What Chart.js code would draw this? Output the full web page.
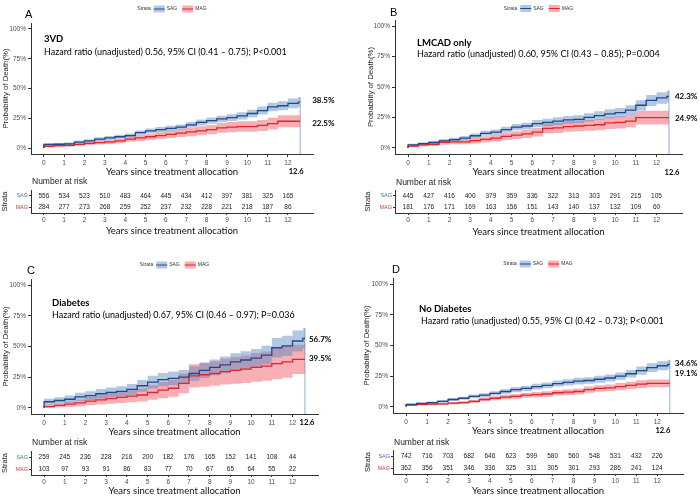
<!DOCTYPE html>
<html>
<head>
<meta charset="utf-8">
<script src="https://cdn.jsdelivr.net/npm/chart.js@4.4.1/dist/chart.umd.min.js"></script>
<style>
  body { margin: 0; background: #fff; width: 700px; height: 497px; position: relative; overflow: hidden; }
  canvas { position: absolute; }
</style>
</head>
<body>
<canvas id="kmA" width="350" height="180" style="left:0;top:0"></canvas>
<canvas id="kmB" width="350" height="180" style="left:350px;top:0"></canvas>
<canvas id="riskA" width="350" height="65" style="left:0;top:175px"></canvas>
<canvas id="riskB" width="350" height="65" style="left:350px;top:175px"></canvas>
<canvas id="kmC" width="350" height="190" style="left:0;top:250px"></canvas>
<canvas id="kmD" width="350" height="190" style="left:350px;top:250px"></canvas>
<canvas id="riskC" width="350" height="60" style="left:0;top:437px"></canvas>
<canvas id="riskD" width="350" height="60" style="left:350px;top:437px"></canvas>
<script>
var years = [0, 0.5, 1, 1.5, 2, 2.5, 3, 3.5, 4, 4.5, 5, 5.5, 6, 6.5, 7, 7.5, 8, 8.5, 9, 9.5, 10, 10.5, 11, 11.5, 12, 12.5, 12.6];
var riskYears = [0, 1, 2, 3, 4, 5, 6, 7, 8, 9, 10, 11, 12];
var yTicks = [0, 25, 50, 75, 100];
var groups = ['SAG', 'MAG'];

// A: 3VD
var aSagEst = [0, 3, 3.2, 3.5, 5, 6, 7.5, 8.5, 9.5, 10.5, 13, 14.5, 15.5, 16.5, 17.5, 19.5, 21.5, 23, 24.5, 25.5, 27, 29, 31.5, 34.5, 35.5, 37.5, 38.5];
var aSagLo = [0, 2, 2.2, 2.5, 3.8, 4.7, 6, 7, 8, 8.8, 11.2, 12.6, 13.5, 14.4, 15.3, 17.2, 19, 20.4, 21.8, 22.7, 24, 25.8, 28.2, 31, 31.8, 33.5, 34.3];
var aSagHi = [0, 4, 4.3, 4.6, 6.3, 7.4, 9, 10.1, 11.1, 12.2, 14.8, 16.4, 17.6, 18.7, 19.8, 21.8, 24, 25.6, 27.2, 28.4, 30, 32.2, 34.8, 38, 39.3, 41.5, 42.8];
var aMagEst = [0, 1.5, 2, 2.3, 3, 4, 4.5, 5.2, 6, 7.5, 8.5, 9.5, 10.5, 11.5, 12.5, 13.5, 14.5, 15.5, 17, 17.5, 18, 18, 19, 20.5, 22.5, 22.5, 22.5];
var aMagLo = [0, 0.5, 0.9, 1.1, 1.7, 2.5, 2.9, 3.4, 4, 5.2, 6, 6.8, 7.6, 8.4, 9.2, 10, 10.8, 11.6, 12.8, 13.2, 13.6, 13.6, 14.4, 15.6, 17.4, 17.4, 17.4];
var aMagHi = [0, 2.5, 3.1, 3.6, 4.4, 5.5, 6.1, 7, 8, 9.8, 11, 12.2, 13.4, 14.6, 15.8, 17, 18.2, 19.4, 21.2, 21.8, 22.4, 22.4, 23.6, 25.4, 27.6, 27.6, 27.6];
var aSagRisk = [556, 534, 523, 510, 483, 464, 445, 434, 412, 397, 381, 325, 165];
var aMagRisk = [284, 277, 273, 268, 259, 252, 237, 232, 228, 221, 218, 187, 86];

// B: LMCAD only
var bSagEst = [0, 2.5, 3.5, 4.5, 5.8, 6.8, 8, 10, 12, 13, 15, 17, 18, 20, 21, 22, 23, 23.5, 25, 26.5, 28, 29, 31, 35, 39, 41, 42.3];
var bSagLo = [0, 1.5, 2.4, 3.3, 4.4, 5.3, 6.3, 8.1, 9.9, 10.8, 12.6, 14.4, 15.3, 17.1, 18, 18.9, 19.8, 20.2, 21.6, 22.9, 24.3, 25.2, 27, 30.8, 34.5, 36.3, 37.4];
var bSagHi = [0, 3.5, 4.6, 5.7, 7.2, 8.3, 9.7, 11.9, 14.1, 15.2, 17.4, 19.6, 20.7, 22.9, 24, 25.1, 26.2, 26.8, 28.4, 30.1, 31.7, 32.8, 35, 39.2, 43.5, 45.7, 47.2];
var bMagEst = [0, 1.5, 2.5, 3, 4.5, 5, 5, 6, 7, 8, 9.5, 10.5, 11.5, 13, 16, 16.5, 17.5, 18, 18.5, 19, 20.5, 21, 22, 24.9, 24.9, 24.9, 24.9];
var bMagLo = [0, 0.5, 1.1, 1.5, 2.6, 3, 3, 3.7, 4.5, 5.2, 6.5, 7.3, 8.1, 9.4, 11.9, 12.3, 13.2, 13.6, 14, 14.4, 15.6, 16, 16.8, 19.2, 19.2, 19.2, 19.2];
var bMagHi = [0, 2.5, 3.9, 4.5, 6.4, 7, 7, 8.3, 9.5, 10.8, 12.5, 13.7, 14.9, 16.6, 20.1, 20.7, 21.8, 22.4, 23, 23.6, 25.4, 26, 27.2, 30.6, 30.6, 30.6, 30.6];
var bSagRisk = [445, 427, 416, 400, 379, 359, 336, 322, 313, 303, 291, 215, 105];
var bMagRisk = [181, 176, 171, 169, 163, 156, 151, 143, 140, 137, 132, 109, 60];

// C: Diabetes
var cSagEst = [0, 5, 6, 7, 9, 10, 11.5, 12.5, 13.5, 15, 18, 21, 23, 24, 25, 28, 30.5, 33, 35, 37.5, 39, 40.5, 43, 49, 50.5, 54.5, 56.7];
var cSagLo = [0, 2.5, 3.3, 4, 5.6, 6.4, 7.6, 8.5, 9.3, 10.6, 13.2, 15.8, 17.6, 18.4, 19.2, 22, 24.3, 26.5, 28.2, 30.5, 31.8, 33, 35.3, 41, 42.2, 46, 48.5];
var cSagHi = [0, 7.5, 8.7, 10, 12.4, 13.6, 15.4, 16.5, 17.7, 19.4, 22.8, 26.2, 28.4, 29.6, 30.8, 34, 36.7, 39.5, 41.8, 44.5, 46.2, 48, 50.7, 57, 58.8, 63, 64.9];
var cMagEst = [0, 1, 2, 3, 4, 5.5, 6.5, 7.5, 8.5, 9.5, 10.5, 12.5, 14.5, 16, 20, 26, 27, 28, 29.5, 30.5, 31.5, 33, 34, 36, 37.5, 39.5, 39.5];
var cMagLo = [0, 0, 0.3, 0.8, 1.3, 2.2, 2.8, 3.4, 4, 4.6, 5.2, 6.6, 7.9, 9, 12, 16.5, 17.2, 18, 19, 19.6, 20.3, 21.3, 22, 23.4, 24.6, 27.5, 27.5];
var cMagHi = [0, 3, 3.7, 5.2, 6.7, 8.8, 10.2, 11.6, 13, 14.4, 15.8, 18.4, 21.1, 23, 28, 35.5, 36.8, 38, 40, 41.4, 42.7, 44.7, 46, 48.6, 50.4, 51.5, 51.5];
var cSagRisk = [259, 245, 236, 228, 216, 200, 182, 176, 165, 152, 141, 108, 44];
var cMagRisk = [103, 97, 93, 91, 86, 83, 77, 70, 67, 65, 64, 55, 22];

// D: No Diabetes
var dSagEst = [0, 2, 2.8, 3.5, 4.5, 6, 7, 8.5, 9.5, 11, 12.5, 14, 15, 16.5, 17.5, 19, 20, 21, 21.5, 22.5, 23.5, 25, 27, 29.5, 32, 33.5, 34.6];
var dSagLo = [0, 1.3, 2, 2.6, 3.5, 4.8, 5.7, 7, 7.9, 9.2, 10.6, 11.9, 12.8, 14.2, 15.1, 16.5, 17.4, 18.3, 18.8, 19.7, 20.6, 22, 23.9, 26.2, 28.5, 29.8, 30.9];
var dSagHi = [0, 2.7, 3.6, 4.4, 5.5, 7.2, 8.3, 10, 11.1, 12.8, 14.4, 16.1, 17.2, 18.8, 19.9, 21.5, 22.6, 23.7, 24.2, 25.3, 26.4, 28, 30.1, 32.8, 35.5, 37.2, 38.3];
var dMagEst = [0, 1.5, 2, 2.2, 2.5, 3, 3.5, 4.5, 6, 7, 8, 8.5, 9.5, 10, 10.5, 11.5, 12, 12.5, 14, 15, 15.5, 16.5, 17.5, 18.5, 19.1, 19.1, 19.1];
var dMagLo = [0, 0.8, 1.2, 1.3, 1.6, 2, 2.4, 3.2, 4.5, 5.3, 6.2, 6.6, 7.5, 7.9, 8.3, 9.2, 9.6, 10, 11.4, 12.3, 12.7, 13.6, 14.5, 15.4, 16, 16, 16];
var dMagHi = [0, 2.2, 2.8, 3.1, 3.4, 4, 4.6, 5.8, 7.5, 8.7, 9.8, 10.4, 11.5, 12.1, 12.7, 13.8, 14.4, 15, 16.6, 17.7, 18.3, 19.4, 20.5, 21.6, 22.2, 22.2, 22.2];
var dSagRisk = [742, 716, 703, 682, 646, 623, 599, 580, 560, 548, 531, 432, 226];
var dMagRisk = [362, 356, 351, 346, 336, 325, 311, 305, 301, 293, 286, 241, 124];

var sagLine = '#1f4a8a', magLine = '#e2252b';
var sagBand = 'rgba(84,130,190,0.45)', magBand = 'rgba(235,80,90,0.45)';
var sagText = '#4572b0', magText = '#e0383f';
var endLine = '#8db0d4';
var axisCol = '#333333', tickCol = '#4d4d4d';
var arial = '"Liberation Sans", Arial, sans-serif';
var calib = 'Lato, "Open Sans", sans-serif';
var X_MIN = -0.63, X_MAX = 13.23;

Chart.defaults.font.family = arial;

function pts(vals) {
  return years.map(function (x, i) { return { x: x, y: vals[i] }; });
}

function drawLegend(c, cx, cy) {
  c.font = '5px ' + arial;
  c.textBaseline = 'middle';
  c.textAlign = 'left';
  var keyW = 11, keyH = 7;
  var w = c.measureText('Strata').width + 3 + keyW + 2 + c.measureText('SAG').width + 5 + keyW + 2 + c.measureText('MAG').width;
  var x0 = cx - w / 2;
  c.fillStyle = '#333';
  c.fillText('Strata', x0, cy);
  x0 += c.measureText('Strata').width + 3;
  [[sagBand, sagLine, 'SAG'], [magBand, magLine, 'MAG']].forEach(function (k) {
    c.fillStyle = k[0];
    c.fillRect(x0, cy - keyH / 2, keyW, keyH);
    c.strokeStyle = k[1];
    c.lineWidth = 1;
    c.beginPath(); c.moveTo(x0, cy); c.lineTo(x0 + keyW, cy); c.stroke();
    x0 += keyW + 2;
    c.fillStyle = '#333';
    c.fillText(k[2], x0, cy);
    x0 += c.measureText(k[2]).width + 5;
  });
}

var kmDecor = {
  id: 'kmDecor',
  afterDraw: function (chart, args, o) {
    var c = chart.ctx, a = chart.chartArea, xs = chart.scales.x, ys = chart.scales.y;
    c.save();
    c.textBaseline = 'middle';
    c.textAlign = 'left';
    c.fillStyle = '#000';
    c.font = '11px ' + arial;
    c.fillText(o.letter, o.letterX, o.letterY);
    drawLegend(c, (a.left + a.right) / 2, o.legendY);
    c.fillStyle = '#000';
    c.font = 'bold 9.5px ' + calib;
    c.fillText(o.title, o.noteX[0], o.noteY[0]);
    c.font = '9px ' + calib;
    c.fillText(o.hazard, o.noteX[1], o.noteY[1]);
    var endX = years[years.length - 1];
    c.font = 'bold 8px ' + calib;
    var lx = xs.getPixelForValue(endX) + o.labelDx;
    c.fillText(o.endVals[0].toFixed(1) + '%', lx, ys.getPixelForValue(o.labelY[0]));
    c.fillText(o.endVals[1].toFixed(1) + '%', lx, ys.getPixelForValue(o.labelY[1]));
    c.textAlign = 'center';
    c.font = 'bold 7.5px ' + calib;
    c.fillText(String(endX), xs.getPixelForValue(endX) + o.endDx, o.endY);
    c.restore();
  }
};

var riskText = {
  id: 'riskText',
  afterDatasetsDraw: function (chart, args, o) {
    var c = chart.ctx;
    c.save();
    c.textBaseline = 'middle';
    c.textAlign = 'center';
    c.fillStyle = '#222';
    c.font = '6.5px ' + arial;
    chart.data.datasets.forEach(function (ds, i) {
      chart.getDatasetMeta(i).data.forEach(function (pt, j) {
        c.fillText(String(ds.counts[j]), pt.x, pt.y);
      });
    });
    c.textAlign = 'left';
    c.font = '8.5px ' + arial;
    c.fillText('Number at risk', chart.chartArea.left + 1, o.narY);
    c.restore();
  }
};

function xScale(p) {
  return {
    type: 'linear', min: X_MIN, max: X_MAX,
    afterBuildTicks: function (s) { s.ticks = riskYears.map(function (v) { return { value: v }; }); },
    afterFit: function (s) { s.height = p.xh; },
    ticks: { font: { size: 6.5 }, color: tickCol, padding: p.tickPad, maxRotation: 0, autoSkip: false },
    grid: { drawOnChartArea: false, tickLength: p.tickLen, color: axisCol },
    border: { color: axisCol },
    title: { display: true, text: 'Years since treatment allocation', color: '#111',
      font: { family: calib, size: 9.5 }, padding: { top: 0, bottom: p.xtPad } }
  };
}

function makeKm(id, p) {
  var last = years.length - 1;
  var band = function (vals, col, fill) {
    return { data: pts(vals), stepped: 'after', borderColor: 'transparent', borderWidth: 0,
      backgroundColor: col, fill: fill, pointRadius: 0 };
  };
  new Chart(document.getElementById(id), {
    type: 'line',
    data: {
      datasets: [
        { data: pts(p.sagEst), stepped: 'after', borderColor: sagLine, borderWidth: 1.3, pointRadius: 0, fill: false },
        { data: pts(p.magEst), stepped: 'after', borderColor: magLine, borderWidth: 1.3, pointRadius: 0, fill: false },
        band(p.sagHi, sagBand, '+1'),
        band(p.sagLo, sagBand, false),
        band(p.magHi, magBand, '+1'),
        band(p.magLo, magBand, false),
        { data: [{ x: years[last], y: -5 }, { x: years[last], y: p.sagHi[last] }],
          borderColor: endLine, borderWidth: 1, pointRadius: 0, fill: false }
      ]
    },
    options: {
      responsive: false, animation: false, events: [],
      layout: { padding: { top: p.padTop, right: p.padRight, left: 0, bottom: 0 } },
      plugins: {
        legend: { display: false }, tooltip: { enabled: false },
        kmDecor: {
          letter: p.letter, letterX: p.letterX, letterY: p.letterY, legendY: p.legendY,
          title: p.title, hazard: p.hazard, noteX: p.noteX, noteY: p.noteY,
          endVals: [p.sagEst[last], p.magEst[last]], labelY: p.labelY, labelDx: p.labelDx,
          endDx: p.endDx, endY: p.endY
        }
      },
      scales: {
        x: xScale({ xh: p.xh, xtPad: p.xtPad, tickLen: 3, tickPad: 2 }),
        y: {
          min: -5, max: 105,
          afterBuildTicks: function (s) { s.ticks = yTicks.map(function (v) { return { value: v }; }); },
          afterFit: function (s) { s.width = p.yw; },
          ticks: { font: { size: 6.5 }, color: tickCol, padding: 2, callback: function (v) { return v + '%'; } },
          grid: { drawOnChartArea: false, tickLength: 3, color: axisCol },
          border: { color: axisCol },
          title: { display: true, text: 'Probability of Death(%)', color: '#222',
            font: { size: 7.8 }, padding: { top: p.ytPad, bottom: 0 } }
        }
      }
    },
    plugins: [kmDecor]
  });
}

function makeRisk(id, p, sag, mag) {
  new Chart(document.getElementById(id), {
    type: 'scatter',
    data: {
      datasets: [
        { data: riskYears.map(function (v) { return { x: v, y: groups[0] }; }), counts: sag, pointRadius: 0 },
        { data: riskYears.map(function (v) { return { x: v, y: groups[1] }; }), counts: mag, pointRadius: 0 }
      ]
    },
    options: {
      responsive: false, animation: false, events: [],
      layout: { padding: { top: p.padTop, right: p.padRight, left: 0, bottom: 0 } },
      plugins: { legend: { display: false }, tooltip: { enabled: false }, riskText: { narY: p.narY } },
      scales: {
        x: xScale({ xh: p.xh, xtPad: p.xtPad, tickLen: 2, tickPad: 1 }),
        y: {
          type: 'category', labels: groups, offset: true,
          afterFit: function (s) { s.width = p.yw; },
          ticks: { font: { size: 5.5 }, padding: 1,
            color: function (ctx) { return ctx.index === 0 ? sagText : magText; } },
          grid: { drawOnChartArea: false, tickLength: 2, color: axisCol },
          border: { color: axisCol },
          title: { display: true, text: 'Strata', color: '#222', font: { size: 7.5 }, padding: { top: p.ytPad, bottom: 0 } }
        }
      }
    },
    plugins: [riskText]
  });
}

makeKm('kmA', {
  sagEst: aSagEst, sagLo: aSagLo, sagHi: aSagHi, magEst: aMagEst, magLo: aMagLo, magHi: aMagHi,
  letter: 'A', title: '3VD', hazard: 'Hazard ratio (unadjusted) 0.56, 95% CI (0.41 \u2013 0.75); P<0.001',
  padTop: 23, padRight: 37, yw: 31, xh: 26, xtPad: 2, ytPad: 1.3,
  letterX: 25, letterY: 15, legendY: 9, noteX: [44, 44], noteY: [39, 52],
  labelY: [40, 20.5], labelDx: 12, endDx: -4, endY: 172
});
makeKm('kmB', {
  sagEst: bSagEst, sagLo: bSagLo, sagHi: bSagHi, magEst: bMagEst, magLo: bMagLo, magHi: bMagHi,
  letter: 'B', title: 'LMCAD only', hazard: 'Hazard ratio (unadjusted) 0.60, 95% CI (0.43 \u2013 0.85); P=0.004',
  padTop: 20, padRight: 18, yw: 45, xh: 26, xtPad: 2, ytPad: 16,
  letterX: 40, letterY: 12.5, legendY: 8.5, noteX: [67, 67], noteY: [43, 54.5],
  labelY: [42.6, 24.6], labelDx: 6, endDx: 3, endY: 173
});
makeKm('kmC', {
  sagEst: cSagEst, sagLo: cSagLo, sagHi: cSagHi, magEst: cMagEst, magLo: cMagLo, magHi: cMagHi,
  letter: 'C', title: 'Diabetes', hazard: 'Hazard ratio (unadjusted) 0.67, 95% CI (0.46 \u2013 0.97); P=0.036',
  padTop: 29, padRight: 32, yw: 31, xh: 26, xtPad: 2, ytPad: 1.3,
  letterX: 27, letterY: 21, legendY: 15, noteX: [52, 52], noteY: [53, 65],
  labelY: [56, 40.5], labelDx: 4, endDx: 2, endY: 173
});
makeKm('kmD', {
  sagEst: dSagEst, sagLo: dSagLo, sagHi: dSagHi, magEst: dMagEst, magLo: dMagLo, magHi: dMagHi,
  letter: 'D', title: 'No Diabetes', hazard: 'Hazard ratio (unadjusted) 0.55, 95% CI (0.42 \u2013 0.73); P<0.001',
  padTop: 28, padRight: 17, yw: 43, xh: 27, xtPad: 3, ytPad: 12,
  letterX: 42, letterY: 19.5, legendY: 14, noteX: [69, 71], noteY: [59, 71],
  labelY: [35.6, 27.5], labelDx: 5, endDx: -7, endY: 181
});

makeRisk('riskA', { padTop: 15, padRight: 37, yw: 31, xh: 27, xtPad: 3, ytPad: 0.5, narY: 7 }, aSagRisk, aMagRisk);
makeRisk('riskB', { padTop: 15, padRight: 18, yw: 45, xh: 27, xtPad: 2, ytPad: 13.5, narY: 8 }, bSagRisk, bMagRisk);
makeRisk('riskC', { padTop: 14, padRight: 32, yw: 31, xh: 22, xtPad: 0, ytPad: 0.5, narY: 6 }, cSagRisk, cMagRisk);
makeRisk('riskD', { padTop: 13, padRight: 17, yw: 43, xh: 23, xtPad: 0, ytPad: 13.5, narY: 6 }, dSagRisk, dMagRisk);
</script>
</body>
</html>
